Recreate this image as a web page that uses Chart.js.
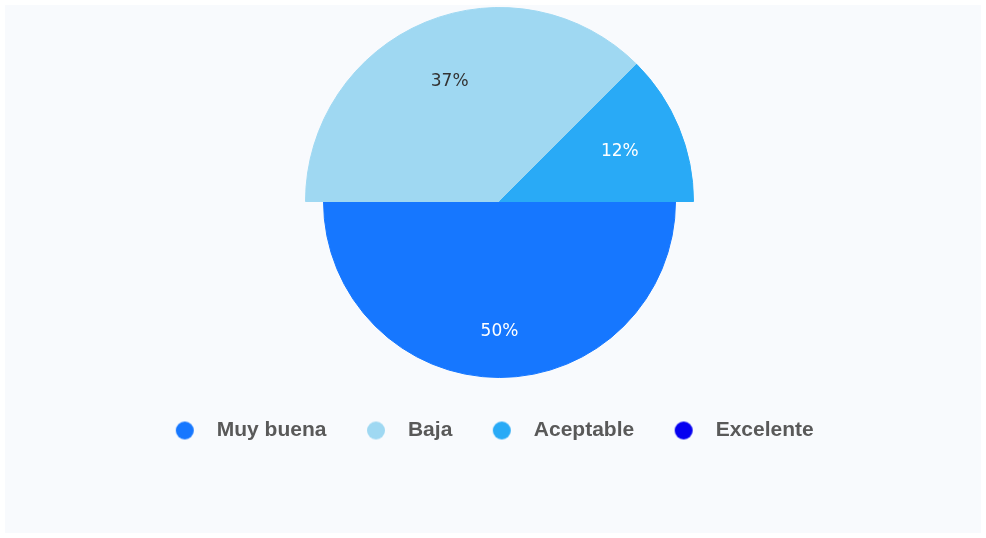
<!DOCTYPE html>
<html lang="es">
<head>
<meta charset="utf-8">
<title>Distribución de valoraciones</title>
<script src="https://cdn.jsdelivr.net/npm/chart.js@4.4.1/dist/chart.umd.min.js"></script>
<style>
  html, body { margin: 0; padding: 0; background: #ffffff; }
  #marco { position: relative; width: 986px; height: 538px; background: #ffffff; }
  #panel { position: absolute; left: 5px; top: 5px; width: 976px; height: 528px; background: #f8fafd; }
  #grafico { position: absolute; left: 0; top: 0; }
</style>
</head>
<body>
<div id="marco">
  <div id="panel"></div>
  <canvas id="grafico" width="986" height="538"></canvas>
</div>
<script>
// Datos del gráfico
const categorias = ["Muy buena", "Baja", "Aceptable", "Excelente"];
const valores = [4, 3, 1, 0];

// Estilos
const colores = ["#1677ff", "#9fd8f2", "#29aaf6", "#0600f0"];
const coloresEtiqueta = ["#ffffff", "#333333", "#ffffff", "#ffffff"];
const radioExtra = [0, 18, 18, 0];

/**
 * Crea el punto de la leyenda como imagen (círculo pegado a la izquierda)
 */
function puntoLeyenda(color) {
  const c = document.createElement("canvas");
  c.width = 44;
  c.height = 20;
  const ctx = c.getContext("2d");
  ctx.fillStyle = color;
  ctx.beginPath();
  ctx.arc(11, 10, 9, 0, Math.PI * 2);
  ctx.fill();
  return c;
}

// Agranda algunas porciones
const radioPlugin = {
  id: "radioPlugin",
  afterDatasetUpdate(chart, args) {
    args.meta.data.forEach((arc, i) => {
      if (radioExtra[i]) arc.outerRadius += radioExtra[i];
    });
  },
};

// Etiquetas de porcentaje dentro de cada porción
const etiquetasPlugin = {
  id: "etiquetasPlugin",
  afterDatasetsDraw(chart) {
    const meta = chart.getDatasetMeta(0);
    const total = valores.reduce((a, b) => a + b, 0);
    const dist = meta.controller.outerRadius * 0.74;
    const ctx = chart.ctx;
    ctx.save();
    ctx.font = "17px 'DejaVu Sans'";
    ctx.textAlign = "center";
    ctx.textBaseline = "middle";
    meta.data.forEach((arc, i) => {
      if (!valores[i]) return;
      const ang = (arc.startAngle + arc.endAngle) / 2;
      const pct = Math.floor((valores[i] / total) * 100);
      ctx.fillStyle = coloresEtiqueta[i];
      ctx.fillText(pct + "%", arc.x + Math.cos(ang) * dist, arc.y + Math.sin(ang) * dist);
    });
    ctx.restore();
  },
};

const ctx = document.getElementById("grafico").getContext("2d");
new Chart(ctx, {
  type: "pie",
  data: {
    labels: categorias,
    datasets: [
      {
        data: valores,
        backgroundColor: colores,
        borderColor: colores,
        borderWidth: 1,
        hoverOffset: 0,
        radius: 176,
      },
    ],
  },
  options: {
    responsive: false,
    animation: false,
    events: [],
    rotation: 90,
    layout: {
      padding: { left: 13, right: 0, top: 33, bottom: 87 },
    },
    plugins: {
      tooltip: { enabled: false },
      legend: {
        display: true,
        position: "bottom",
        labels: {
          usePointStyle: true,
          padding: 50,
          color: "#595959",
          font: { family: "'Liberation Sans', Arial, sans-serif", size: 21, weight: "bold" },
          generateLabels(chart) {
            const items = Chart.overrides.pie.plugins.legend.labels.generateLabels(chart);
            items.forEach((item, i) => {
              item.pointStyle = puntoLeyenda(colores[i]);
            });
            return items;
          },
        },
      },
    },
  },
  plugins: [radioPlugin, etiquetasPlugin],
});
</script>
</body>
</html>
